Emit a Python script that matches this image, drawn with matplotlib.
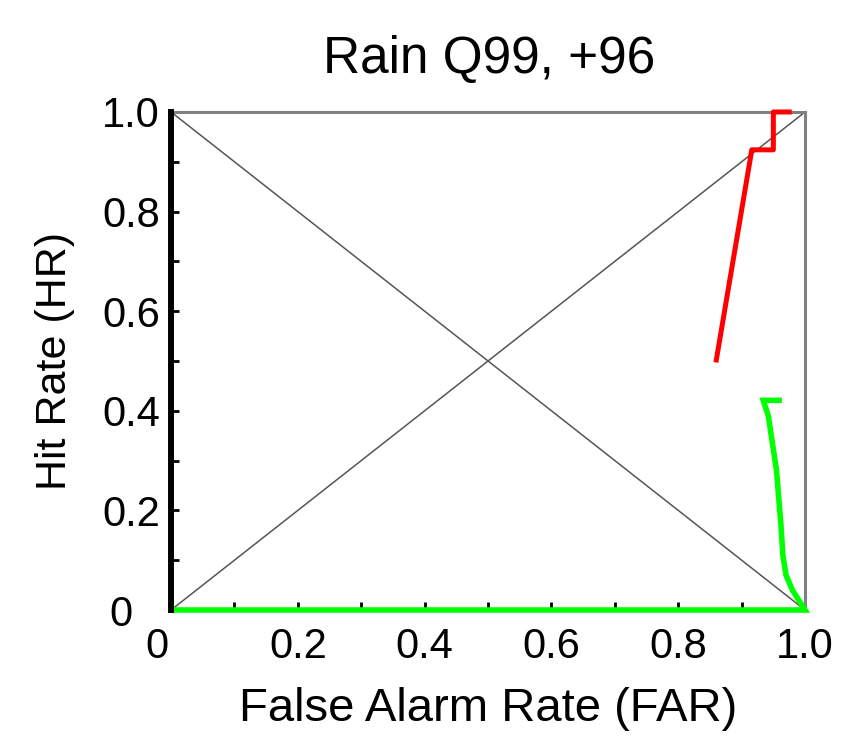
import matplotlib
matplotlib.use('Agg')
import matplotlib.pyplot as plt
import matplotlib.transforms as mtrans
import numpy as np

plt.rcParams['font.family'] = ['Liberation Sans', 'DejaVu Sans']

# ROC curves
red_far = [0.860, 0.916, 0.950, 0.950, 0.975]
red_hr = [0.502, 0.924, 0.924, 1.000, 1.000]

green_far = [0.959, 0.934, 0.942, 0.955, 0.962, 0.965, 0.970, 0.980, 1.000, 0.000]
green_hr = [0.421, 0.421, 0.390, 0.280, 0.170, 0.110, 0.070, 0.040, 0.000, 0.000]

black_far = [0.0, 0.0]
black_hr = [0.0, 1.0]

tick_vals = [0, 0.2, 0.4, 0.6, 0.8, 1.0]
tick_labels = ['0', '0.2', '0.4', '0.6', '0.8', '1.0']

fig = plt.figure(figsize=(8.53, 7.43), dpi=100)
ax = fig.add_axes([0.2005, 0.179, 0.7433, 0.6703])

# reference diagonals
ax.plot([0, 1], [0, 1], color='#555555', lw=1.1, zorder=1)
ax.plot([0, 1], [1, 0], color='#555555', lw=1.1, zorder=1)

ax.plot(red_far, red_hr, color='#ff0000', lw=3.6, zorder=3, clip_on=False)
ax.plot(green_far, green_hr, color='#00ff00', lw=4.0, zorder=4, clip_on=False,
        solid_joinstyle='miter')
ax.plot(black_far, black_hr, color='black', lw=4.3, zorder=5, clip_on=False)

ax.set_xlim(0, 1)
ax.set_ylim(0, 1)
for s in ax.spines.values():
    s.set_color('#808080')
    s.set_linewidth(2.2)

ax.set_xticks(tick_vals)
ax.set_xticklabels(tick_labels)
ax.set_yticks(tick_vals)
ax.set_yticklabels(tick_labels)
ax.set_xticks(np.arange(0.1, 1.0, 0.2), minor=True)
ax.set_yticks(np.arange(0.1, 1.0, 0.2), minor=True)
ax.tick_params(which='both', direction='in', length=6, width=2, color='black')
ax.tick_params(axis='x', which='major', labelsize=30, pad=12)
ax.tick_params(axis='y', which='major', labelsize=30, pad=8)

# the "0" labels sit off-centre in the original
lab_x0 = ax.get_xticklabels()[0]
lab_x0.set_transform(lab_x0.get_transform() + mtrans.ScaledTranslation(-0.14, 0, fig.dpi_scale_trans))
lab_y0 = ax.get_yticklabels()[0]
lab_y0.set_transform(lab_y0.get_transform() + mtrans.ScaledTranslation(-0.27, 0, fig.dpi_scale_trans))

ax.set_xlabel('False Alarm Rate (FAR)', fontsize=34)
ax.xaxis.set_label_coords(0.5, -0.155)
ax.set_ylabel('Hit Rate (HR)', fontsize=31)
ax.yaxis.set_label_coords(-0.152, 0.5)

fig.text(0.5733, 1 - 73 / 743, 'Rain Q99, +96', fontsize=37,
         ha='center', va='baseline')

fig.savefig('out.png', dpi=100)
